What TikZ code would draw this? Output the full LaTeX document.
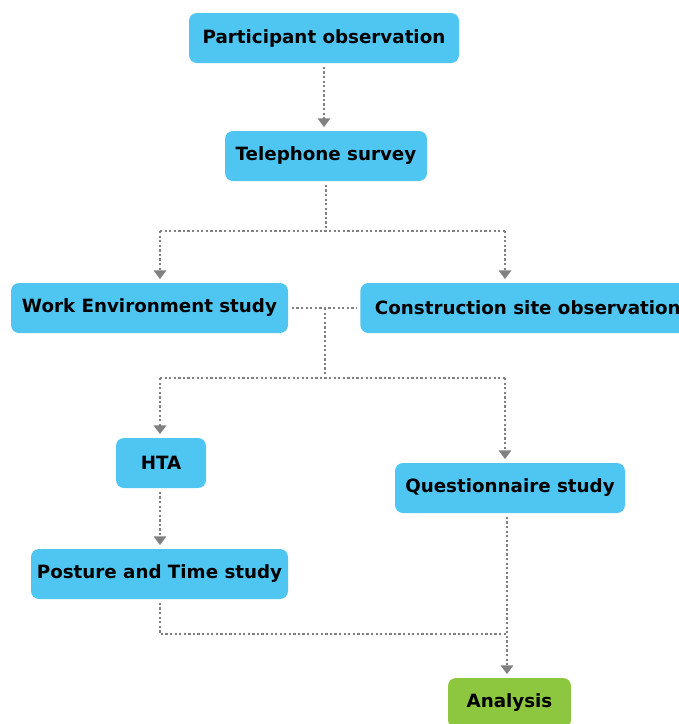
\documentclass[tikz,border=0pt]{standalone}
\usepackage{fontspec}
\setmainfont{DejaVu Sans}
\usetikzlibrary{arrows.meta}
\definecolor{boxblue}{RGB}{79,198,242}
\definecolor{boxgreen}{RGB}{141,198,63}
\definecolor{linkgray}{RGB}{128,128,128}

\begin{document}
\begin{tikzpicture}[
	box/.style={rounded corners=0.16cm, fill=boxblue, minimum height=1cm, inner sep=0pt, font=\bfseries\fontsize{10.4}{12}\selectfont},
	link/.style={draw=linkgray, line width=1.3pt, dash pattern=on 1.3pt off 1.3pt},
	arr/.style={link, -{Triangle[width=7pt,length=5pt]}, shorten >=2pt, shorten <=2pt}
]
	\useasboundingbox (0,0) rectangle (13.58,-14.48);
	% the steps
	\node[box, minimum width=5.4cm] (part) at (6.48,-0.76) {Participant observation};
	\node[box, minimum width=4.04cm] (tel) at (6.52,-3.12) {Telephone survey};
	\node[box, minimum width=5.54cm] (work) at (2.99,-6.16) {Work Environment study};
	\node[box, minimum width=6.7cm, anchor=west] (cons) at (7.2,-6.16) {Construction site observation};
	\node[box, minimum width=1.8cm] (hta) at (3.22,-9.26) {HTA};
	\node[box, minimum width=4.6cm] (quest) at (10.2,-9.76) {Questionnaire study};
	\node[box, minimum width=5.14cm] (post) at (3.19,-11.48) {Posture and Time study};
	\node[box, fill=boxgreen, minimum width=2.46cm] (ana) at (10.19,-14.06) {Analysis};
	% junctions
	\coordinate (t1) at (3.2,-4.62);
	\coordinate (t2) at (10.1,-4.62);
	\coordinate (mid) at (6.5,-6.16);
	\coordinate (s1) at (3.2,-7.56);
	\coordinate (s2) at (10.1,-7.56);
	\coordinate (j1) at (3.2,-12.68);
	\coordinate (j2) at (10.14,-12.68);
	% links
	\draw[arr] (part.south) -- (part.south |- tel.north);
	\draw[link, shorten <=2pt] (tel.south) -- (tel.south |- t1);
	\draw[link] (t1) -- (t2);
	\draw[arr, shorten <=0pt] (t1) -- (t1 |- work.north);
	\draw[arr, shorten <=0pt] (t2) -- (t2 |- cons.north);
	\draw[link, shorten >=2pt, shorten <=2pt] (work.east) -- (cons.west);
	\draw[link] (mid) -- (mid |- s1);
	\draw[link] (s1) -- (s2);
	\draw[arr, shorten <=0pt] (s1) -- (s1 |- hta.north);
	\draw[arr, shorten <=0pt] (s2) -- (s2 |- quest.north);
	\draw[arr] (hta.south -| t1) -- (t1 |- post.north);
	\draw[link, shorten <=2pt] (post.south -| j1) -- (j1) -- (j2);
	\draw[arr] (quest.south -| j2) -- (j2 |- ana.north);
\end{tikzpicture}
\end{document}
